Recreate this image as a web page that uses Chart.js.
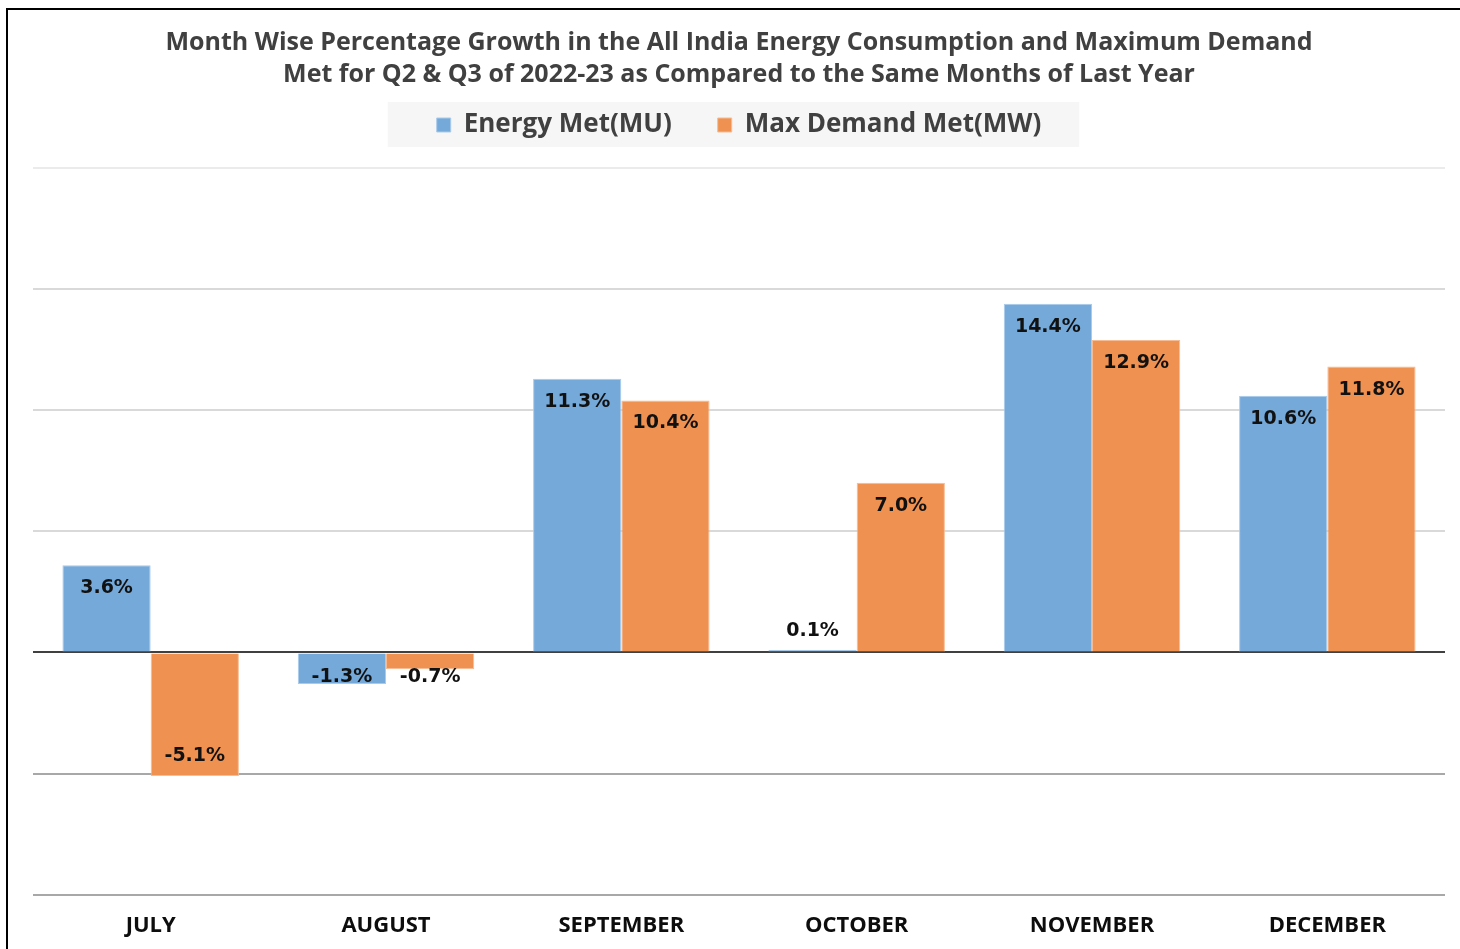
<!DOCTYPE html>
<html>
<head>
<meta charset="utf-8">
<title>Month Wise Percentage Growth</title>
<script src="https://cdn.jsdelivr.net/npm/chart.js@4.4.1/dist/chart.umd.min.js"></script>
<style>
  html, body { margin: 0; padding: 0; background: #fff; }
  #wrap { position: relative; width: 1460px; height: 949px; overflow: hidden; }
  #frame { position: absolute; left: 6px; top: 8px; width: 2000px; height: 2000px;
           border-left: 2px solid #000; border-top: 2px solid #000; pointer-events: none; }
</style>
</head>
<body>
<div id="wrap">
  <canvas id="chart" width="1460" height="949"></canvas>
  <div id="frame"></div>
</div>
<script>
// data
const months = ['JULY', 'AUGUST', 'SEPTEMBER', 'OCTOBER', 'NOVEMBER', 'DECEMBER'];
const energyMet = [3.6, -1.3, 11.3, 0.1, 14.4, 10.6];
const maxDemandMet = [-5.1, -0.7, 10.4, 7.0, 12.9, 11.8];
const seriesNames = ['Energy Met(MU)', 'Max Demand Met(MW)'];
const titleLines = [
  'Month Wise Percentage Growth in the All India Energy Consumption and Maximum Demand',
  'Met for Q2 & Q3 of 2022-23 as Compared to the Same Months of Last Year'
];

const blue = '#74a9da';
const orange = '#ef9150';

// grey box behind the legend
const legendBg = {
  id: 'legendBg',
  beforeDraw(chart) {
    const lg = chart.legend;
    if (!lg || !lg.legendHitBoxes || !lg.legendHitBoxes.length) return;
    const hb = lg.legendHitBoxes;
    const first = hb[0], last = hb[hb.length - 1];
    const ctx = chart.ctx;
    const cy = first.top + first.height / 2;
    ctx.save();
    ctx.fillStyle = '#f6f6f6';
    ctx.fillRect(first.left - 49, cy - 23, (last.left + last.width + 38) - (first.left - 49), 45);
    ctx.restore();
  }
};

// value labels in/near the bar ends
const valueLabels = {
  id: 'valueLabels',
  afterDatasetsDraw(chart) {
    const ctx = chart.ctx;
    ctx.save();
    ctx.font = 'bold 19px "DejaVu Sans"';
    ctx.fillStyle = '#111';
    ctx.textAlign = 'center';
    ctx.textBaseline = 'middle';
    chart.data.datasets.forEach((ds, di) => {
      const meta = chart.getDatasetMeta(di);
      meta.data.forEach((bar, i) => {
        const v = ds.data[i];
        const len = Math.abs(bar.base - bar.y);
        let ty;
        if (v >= 0) {
          ty = len >= 40 ? bar.y + 23 : bar.y - 19;
        } else {
          ty = len >= 40 ? bar.y - 20 : bar.base + 24;
        }
        ctx.fillText(v.toFixed(1) + '%', bar.x, ty);
      });
    });
    ctx.restore();
  }
};

function gridColor(ctx) {
  const v = ctx.tick ? ctx.tick.value : null;
  if (v === 0) return '#404040';
  if (v === 20) return '#ebebeb';
  if (v < 0) return '#a8a8a8';
  return '#d9d9d9';
}

new Chart(document.getElementById('chart'), {
  type: 'bar',
  data: {
    labels: months,
    datasets: [
      {
        label: seriesNames[0],
        data: energyMet,
        backgroundColor: blue,
        borderColor: '#a9cbea',
        borderWidth: 1
      },
      {
        label: seriesNames[1],
        data: maxDemandMet,
        backgroundColor: orange,
        borderColor: '#f6bb93',
        borderWidth: 1
      }
    ]
  },
  options: {
    responsive: false,
    animation: false,
    devicePixelRatio: 1,
    layout: { padding: { left: 33, right: 15, top: 1, bottom: -8 } },
    datasets: {
      bar: { categoryPercentage: 0.75, barPercentage: 1.0 }
    },
    plugins: {
      title: {
        display: true,
        text: titleLines,
        color: '#404040',
        font: { family: '"Open Sans"', size: 25, weight: '700', lineHeight: 32 / 25 },
        padding: { top: 26, bottom: -25 }
      },
      legend: {
        display: true,
        position: 'top',
        labels: {
          color: '#404040',
          font: { family: '"Open Sans"', size: 26, weight: '700' },
          boxWidth: 14,
          boxHeight: 14,
          padding: 46
        }
      },
      // empty subtitle used as a spacer between legend and plot
      subtitle: {
        display: true,
        text: '',
        weight: 500,
        font: { size: 1, lineHeight: 1 },
        padding: { top: 0, bottom: 19 }
      },
      tooltip: { enabled: false }
    },
    scales: {
      x: {
        grid: { display: false, drawTicks: false },
        border: { display: false },
        ticks: {
          color: '#0d0d0d',
          padding: 18,
          font: { family: '"Open Sans"', size: 22, weight: '700' }
        }
      },
      y: {
        min: -10,
        max: 20,
        ticks: { display: false, stepSize: 5 },
        border: { display: false },
        grid: {
          drawTicks: false,
          color: gridColor,
          lineWidth: 2
        }
      }
    }
  },
  plugins: [legendBg, valueLabels]
});
</script>
</body>
</html>
